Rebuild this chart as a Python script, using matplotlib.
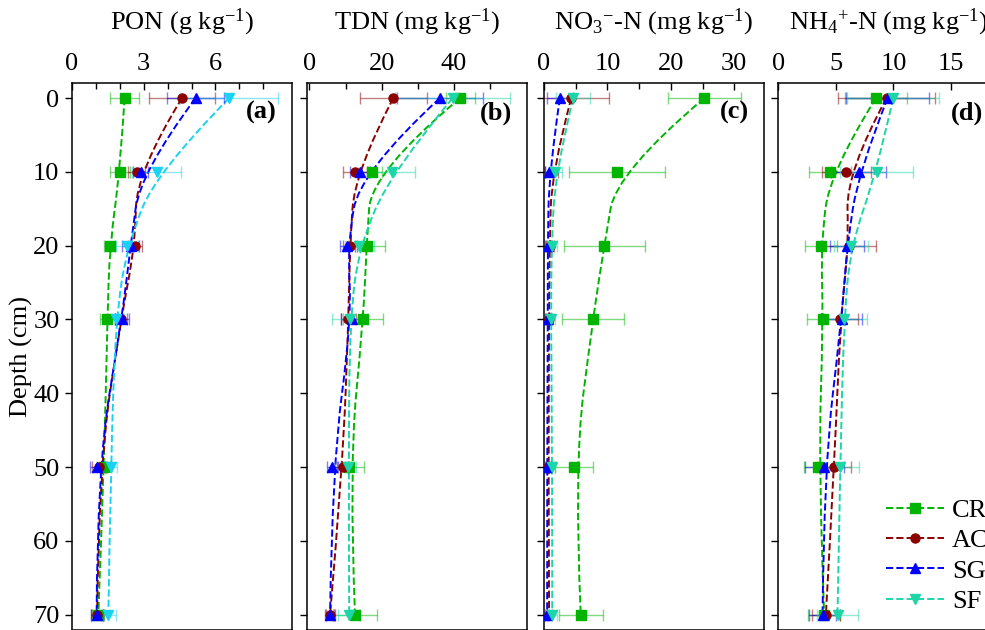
import numpy as np
import matplotlib
matplotlib.use("Agg")
import matplotlib.pyplot as plt
from matplotlib.path import Path
from matplotlib.patches import PathPatch
from matplotlib.lines import Line2D
from matplotlib.ticker import MultipleLocator, FixedLocator

plt.rcParams['font.family'] = ['Liberation Serif', 'DejaVu Serif']
plt.rcParams['mathtext.fontset'] = 'custom'
plt.rcParams['mathtext.rm'] = 'Liberation Serif'
plt.rcParams['mathtext.it'] = 'Liberation Serif:italic'
plt.rcParams['mathtext.bf'] = 'Liberation Serif:bold'

# depth of each sampling layer (cm)
depth = [0, 10, 20, 30, 50, 70]
treatments = ['CR', 'AC', 'SG', 'SF']

# PON (g kg-1)
pon_mean = {
    'CR': [2.2, 2.0, 1.58, 1.48, 1.34, 1.1],
    'AC': [4.6, 2.7, 2.64, 2.04, 1.13, 1.05],
    'SG': [5.17, 2.87, 2.45, 2.08, 1.06, 1.03],
    'SF': [6.57, 3.54, 2.31, 1.83, 1.62, 1.52],
}
pon_err = {
    'CR': [0.6, 0.42, 0.23, 0.3, 0.3, 0.25],
    'AC': [1.4, 0.35, 0.3, 0.25, 0.3, 0.25],
    'SG': [1.2, 0.3, 0.35, 0.3, 0.3, 0.25],
    'SF': [2.06, 1.03, 0.45, 0.35, 0.25, 0.3],
}

# TDN (mg kg-1)
tdn_mean = {
    'CR': [41.7, 17.2, 15.8, 14.9, 11.0, 12.6],
    'AC': [23.2, 12.6, 11.2, 10.8, 9.2, 5.7],
    'SG': [36.1, 14.0, 10.5, 11.7, 6.3, 5.7],
    'SF': [39.6, 22.8, 13.8, 11.2, 10.8, 11.0],
}
tdn_err = {
    'CR': [4, 3, 5, 5.5, 4, 6],
    'AC': [9.3, 3.2, 2, 2, 1.5, 1],
    'SG': [12, 2.8, 2, 3, 1.5, 1.5],
    'SF': [16, 6.5, 4, 5, 2, 3],
}

# NO3--N (mg kg-1)
no3_mean = {
    'CR': [25.3, 11.5, 9.5, 7.7, 4.74, 5.8],
    'AC': [4.3, 1.2, 0.9, 0.8, 0.7, 0.8],
    'SG': [2.5, 0.8, 0.6, 0.6, 0.5, 0.5],
    'SF': [4.6, 1.8, 1.2, 1.1, 1.3, 1.3],
}
no3_err = {
    'CR': [5.7, 7.6, 6.4, 4.9, 3, 3.5],
    'AC': [6, 1, 0.6, 0.5, 0.4, 0.4],
    'SG': [2, 0.6, 0.5, 0.4, 0.3, 0.3],
    'SF': [2.7, 1, 0.8, 0.6, 0.5, 0.7],
}

# NH4+-N (mg kg-1)
nh4_mean = {
    'CR': [8.48, 4.48, 3.7, 3.9, 3.49, 3.98],
    'AC': [9.4, 5.92, 6.1, 5.4, 4.85, 4.13],
    'SG': [9.49, 6.97, 5.97, 5.5, 3.98, 3.84],
    'SF': [9.98, 8.53, 6.3, 5.7, 5.37, 5.14],
}
nh4_err = {
    'CR': [2.7, 1.8, 1.4, 1.4, 1.3, 1.4],
    'AC': [4.2, 2.1, 2.4, 1.5, 1.5, 1.2],
    'SG': [3.6, 2.4, 1.5, 1.8, 1.7, 1.2],
    'SF': [4, 3.2, 1.5, 2, 1.6, 1.8],
}

colors = {'CR': '#00b400', 'AC': '#8b0000', 'SG': '#0000ff', 'SF': '#1cd6a8'}
sf_color_a = '#1ad2f2'
markers = {'CR': 's', 'AC': 'o', 'SG': '^', 'SF': 'v'}

# data, errors, title, x range, labelled ticks, minor ticks, tag
panels = [
    (pon_mean, pon_err, r'PON (g kg$^{-1}$)', (0, 9.2),
     [0, 3, 6], [1, 2, 4, 5, 7, 8], '(a)'),
    (tdn_mean, tdn_err, r'TDN (mg kg$^{-1}$)', (-0.6, 60.3),
     [0, 20, 40], [10, 30, 50], '(b)'),
    (no3_mean, no3_err, r'NO$_3{}^{-}$-N (mg kg$^{-1}$)', (0, 34.7),
     [0, 10, 20, 30], [5, 15, 25], '(c)'),
    (nh4_mean, nh4_err, r'NH$_4{}^{+}$-N (mg kg$^{-1}$)', (0, 19.1),
     [0, 5, 10, 15], [], '(d)'),
]


def smooth_path(xs, ys):
    # quadratic B-spline with the data as control points
    verts = [(xs[0], ys[0])]
    codes = [Path.MOVETO]
    n = len(xs)
    for i in range(1, n - 1):
        verts.append((xs[i], ys[i]))
        if i == n - 2:
            verts.append((xs[i + 1], ys[i + 1]))
        else:
            verts.append(((xs[i] + xs[i + 1]) / 2, (ys[i] + ys[i + 1]) / 2))
        codes += [Path.CURVE3, Path.CURVE3]
    return Path(verts, codes)


fig = plt.figure(figsize=(9.85, 6.3), dpi=100)
W, H = 985.0, 630.0
lefts = [72, 307.3, 544, 778.3]
top_px, bot_px = 83.3, 629.5

for k, (means, errs, title, xlim, majors, minors, tag) in enumerate(panels):
    ax = fig.add_axes([lefts[k] / W, (H - bot_px) / H, 220 / W, (bot_px - top_px) / H])
    for t in treatments:
        c = colors[t]
        if k == 0 and t == 'SF':
            c = sf_color_a
        x = means[t]
        ax.add_patch(PathPatch(smooth_path(x, depth), fill=False, ec=c, lw=1.4,
                               ls='--', transform=ax.transData, zorder=2))
        ax.errorbar(x, depth, xerr=errs[t], fmt='none', ecolor=c, alpha=0.5,
                    elinewidth=1.0, capsize=4.2, capthick=1.0, zorder=3)
        ax.plot(x, depth, ls='none', marker=markers[t], color=c, ms=6.5,
                mec=c, zorder=4)
    ax.set_xlim(*xlim)
    ax.set_ylim(72, -2)
    ax.xaxis.tick_top()
    ax.xaxis.set_label_position('top')
    ax.xaxis.set_major_locator(FixedLocator(majors))
    ax.xaxis.set_minor_locator(FixedLocator(minors))
    ax.yaxis.set_major_locator(MultipleLocator(10))
    ax.tick_params(axis='x', which='both', direction='in', top=True, bottom=False,
                   labelsize=19, pad=6, width=1.0)
    ax.tick_params(axis='x', which='major', length=5)
    ax.tick_params(axis='x', which='minor', length=4)
    ax.tick_params(axis='y', direction='out', left=True, right=False, length=5,
                   width=1.0, labelsize=19, pad=4)
    for s in ax.spines.values():
        s.set_linewidth(1.1)
    ax.set_xlabel(title, fontsize=19, labelpad=17)
    if k == 0:
        ax.set_ylabel('Depth (cm)', fontsize=19, labelpad=0)
    else:
        ax.tick_params(axis='y', labelleft=False)
    ax.text(0.93, 0.946, tag, transform=ax.transAxes, ha='right', va='center',
            fontsize=19, fontweight='bold')
    if k == 3:
        handles = [Line2D([], [], color=colors[t], ls='--', lw=1.4,
                          marker=markers[t], ms=6.5) for t in treatments]
        ax.legend(handles, treatments, loc='upper left', bbox_to_anchor=(0.49, 0.24),
                  frameon=False, fontsize=19, handlelength=2.2, handletextpad=0.3,
                  labelspacing=0.26, borderpad=0, borderaxespad=0)

fig.savefig('out.png', dpi=100)
